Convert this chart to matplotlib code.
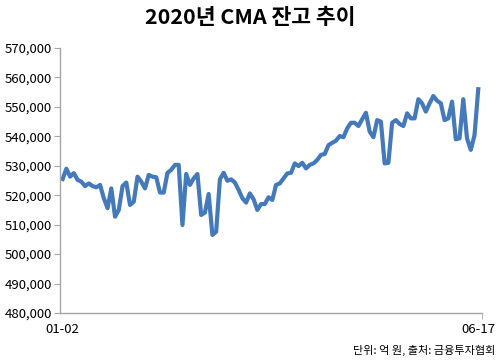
import numpy as np
import matplotlib
matplotlib.use('Agg')
import matplotlib.pyplot as plt
from matplotlib.ticker import FuncFormatter

plt.rcParams['font.family'] = ['Noto Sans CJK KR', 'DejaVu Sans']

# CMA balance, 100 million won (daily, 2020-01-02 .. 2020-06-17)
cma = [525.5, 529, 526.3, 527.5, 525.2, 524.6, 523.1, 524, 523.1, 522.7,
       523.5, 519, 515.6, 522.3, 512.7, 515, 523.1, 524.3, 516.7, 517.8,
       526.3, 524.6, 522.3, 526.9, 526.3, 526.1, 520.9, 520.9, 527.6, 528.6,
       530.3, 530.3, 509.9, 527.2, 523.5, 525.7,
       527.2, 513.3, 514.1, 520.4, 506.5, 507.6, 525.4, 527.6, 524.9, 525.4,
       524.3, 521.8, 519, 517.5, 520.6, 518.6, 515, 517, 517, 519.3,
       518.4, 523.5, 524, 525.7, 527.4, 527.6, 530.8, 529.9, 531, 529.1,
       530.3, 530.8, 532, 533.7, 534,
       537, 537.8, 538.5, 540.1, 539.7, 542.7, 544.6, 544.6, 543.5, 545.8,
       548, 541.6, 539.7, 545.5, 545, 530.8, 531, 544.6, 545.5, 544.2,
       543.5, 547.8, 546.1, 546.1, 552.6, 551.2, 548.4, 551.2, 553.7, 552.1,
       551.2, 545.5, 546.1, 551.8, 539, 539.3, 552.6, 539.3, 535.4, 540.4,
       556]
cma = np.array(cma) * 1000
first_label = '01-02'
last_label = '06-17'
y_ticks = np.arange(480000, 570001, 10000)

title = '2020년 CMA 잔고 추이'
source = '단위: 억 원, 출처: 금융투자협회'

fig = plt.figure(figsize=(5, 3.6), dpi=100)
ax = fig.add_axes([0.12, 0.1306, 0.844, 0.7361])

x = np.arange(len(cma))
ax.plot(x, cma, color='#4479bb', linewidth=3.0, solid_joinstyle='round')

ax.set_ylim(480000, 570000)
ax.set_xlim(-0.7, len(cma))
ax.set_yticks(y_ticks)
ax.yaxis.set_major_formatter(FuncFormatter(lambda v, p: f'{int(v):,}'))
ax.set_xticks([0, len(cma) - 1])
ax.set_xticklabels([first_label, last_label])
# small end mark on the category axis
ax.set_xticks([len(cma)], minor=True)

for s in ['top', 'right']:
    ax.spines[s].set_visible(False)
for s in ['left', 'bottom']:
    ax.spines[s].set_color('#a6a6a6')
    ax.spines[s].set_linewidth(1.0)
ax.tick_params(axis='y', length=4, color='#a6a6a6', labelsize=9.5, pad=2)
ax.tick_params(axis='x', which='major', length=0, labelsize=9.5, pad=7)
ax.tick_params(axis='x', which='minor', length=4, color='#a6a6a6')

fig.text(0.5, 0.95, title, ha='center', va='center', fontsize=15.5, fontweight='bold')
fig.text(0.99, 0.027, source, ha='right', va='center', fontsize=8)

fig.savefig('out.png', dpi=100)
